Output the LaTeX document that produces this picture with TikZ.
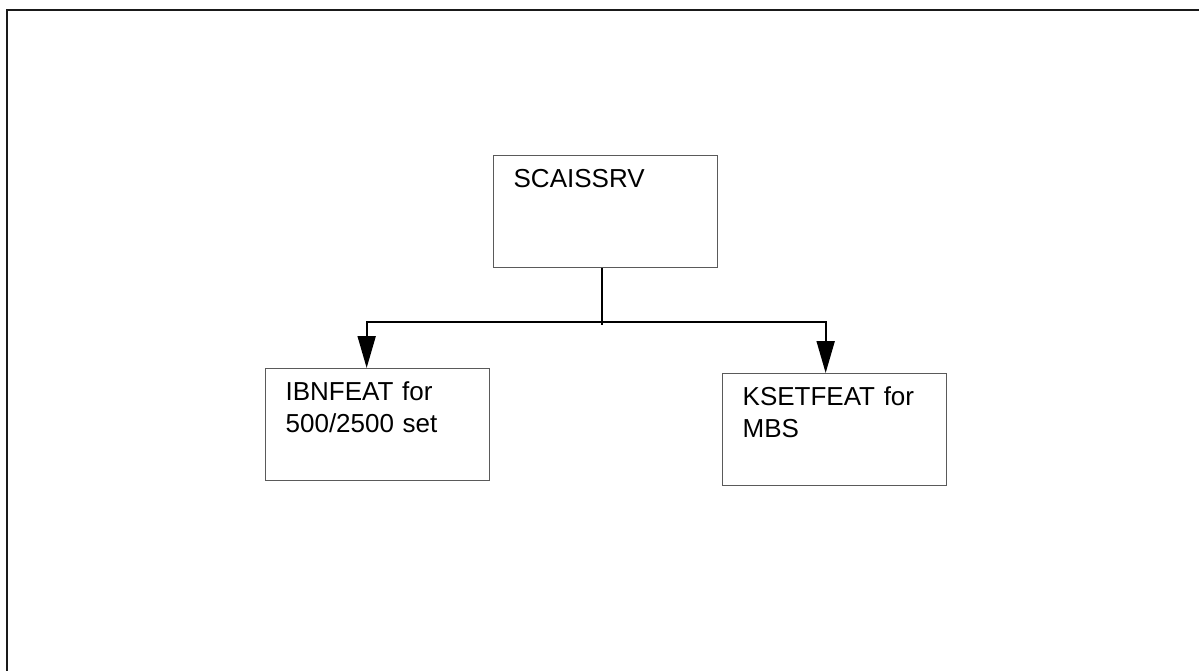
\documentclass[tikz,border=0pt]{standalone}
\usepackage{fontspec}
\setmainfont{Liberation Sans}
\usepackage{xcolor}
\usepackage{tikz}
\usetikzlibrary{positioning, arrows.meta, calc}
\definecolor{boxline}{HTML}{5A5A5A}
\definecolor{frameline}{HTML}{1A1A1A}

\begin{document}
\begin{tikzpicture}[
  x=1pt, y=-1pt,
  every node/.style={font=\fontsize{26}{31.5}\selectfont},
  feat/.style={
    rectangle, draw=boxline, line width=1.3pt, anchor=north west,
    text width=184pt, align=left, inner xsep=20pt, inner ysep=0pt,
    text height=32pt, text depth=80pt,
  },
  edge/.style={-{Triangle[length=32pt,width=18pt]}, line width=2pt, draw=black},
  stem/.style={line width=2pt, draw=black},
]
\useasboundingbox (0,0) rectangle (1199,671);
\draw[frameline, line width=2pt] (7,671) -- (7,10) -- (1199,10);

\node[feat] (scai) at (493,155)   {SCAISSRV};
\node[feat] (ibn)  at (265,368)   {IBNFEAT for\\500/2500 set};
\node[feat] (kset) at (722,373)   {KSETFEAT for\\MBS};

\coordinate (split) at ([xshift=-4pt, yshift=-54pt]scai.south);

\draw[stem] ([xshift=-4pt]scai.south) -- ([yshift=-3pt]split);
\draw[edge] (split) -| ([xshift=-11pt]ibn.north);
\draw[edge] (split) -| ([xshift=-9pt]kset.north);
\end{tikzpicture}
\end{document}
